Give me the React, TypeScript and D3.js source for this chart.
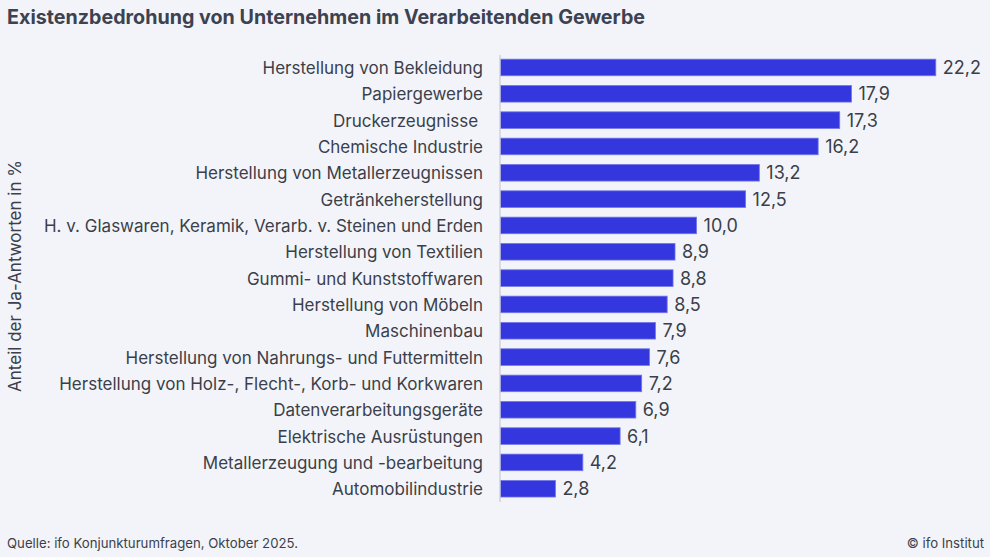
import React, { useEffect, useRef } from "react";
import * as d3 from "d3";

const categories = [
  "Herstellung von Bekleidung",
  "Papiergewerbe",
  "Druckerzeugnisse ",
  "Chemische Industrie",
  "Herstellung von Metallerzeugnissen",
  "Getränkeherstellung",
  "H. v. Glaswaren, Keramik, Verarb. v. Steinen und Erden",
  "Herstellung von Textilien",
  "Gummi- und Kunststoffwaren",
  "Herstellung von Möbeln",
  "Maschinenbau",
  "Herstellung von Nahrungs- und Futtermitteln",
  "Herstellung von Holz-, Flecht-, Korb- und Korkwaren",
  "Datenverarbeitungsgeräte",
  "Elektrische Ausrüstungen",
  "Metallerzeugung und -bearbeitung",
  "Automobilindustrie",
];
const values = [22.2, 17.9, 17.3, 16.2, 13.2, 12.5, 10.0, 8.9, 8.8, 8.5, 7.9, 7.6, 7.2, 6.9, 6.1, 4.2, 2.8];

const title = "Existenzbedrohung von Unternehmen im Verarbeitenden Gewerbe";
const yTitle = "Anteil der Ja-Antworten in %";
const source = "Quelle: ifo Konjunkturumfragen, Oktober 2025.";
const credit = "© ifo Institut";

const W = 990;
const H = 557;
const FONT = "Inter, 'Noto Sans', sans-serif";
const TEXT = "#3b3f4a";

export default function App() {
  const ref = useRef<SVGSVGElement | null>(null);

  useEffect(() => {
    const svg = d3.select(ref.current);
    svg.selectAll("*").remove();

    svg.append("rect").attr("width", W).attr("height", H).attr("fill", "#f3f4f9");

    const x0 = 500.5;
    const x = d3.scaleLinear().domain([0, 22.2]).range([x0, x0 + 435.3]);
    const y = d3
      .scaleBand<string>()
      .domain(categories)
      .range([54.3, 501.9])
      .paddingInner(0.37)
      .paddingOuter(0.185);

    svg
      .append("text")
      .attr("x", 7)
      .attr("y", 24)
      .attr("font-family", FONT)
      .attr("font-weight", 700)
      .attr("font-size", 19.7)
      .attr("fill", "#3d4250")
      .text(title);

    const g = svg.append("g");
    g.selectAll("rect.bar")
      .data(values)
      .join("rect")
      .attr("class", "bar")
      .attr("x", x(0))
      .attr("y", (_, i) => y(categories[i])!)
      .attr("width", (d) => x(d) - x(0))
      .attr("height", y.bandwidth())
      .attr("fill", "#3437dd")
      .attr("stroke", "#7376e8")
      .attr("stroke-width", 0.8);

    g.selectAll("text.val")
      .data(values)
      .join("text")
      .attr("class", "val")
      .attr("x", (d) => x(d) + 7)
      .attr("y", (_, i) => y(categories[i])! + y.bandwidth() / 2)
      .attr("dy", "0.37em")
      .attr("font-family", FONT)
      .attr("font-size", 18)
      .attr("fill", TEXT)
      .text((d) => d3.format(".1f")(d).replace(".", ","));

    g.selectAll("text.cat")
      .data(categories)
      .join("text")
      .attr("class", "cat")
      .attr("x", 483)
      .attr("y", (d) => y(d)! + y.bandwidth() / 2)
      .attr("dy", "0.38em")
      .attr("text-anchor", "end")
      .attr("font-family", FONT)
      .attr("font-size", 17)
      .attr("fill", TEXT)
      .style("white-space", "pre")
      .text((d) => d);

    svg
      .append("line")
      .attr("x1", 500)
      .attr("x2", 500)
      .attr("y1", 55)
      .attr("y2", 502)
      .attr("stroke", "#c8cad3")
      .attr("stroke-width", 1.2);

    svg
      .append("text")
      .attr("transform", `translate(21,276) rotate(-90)`)
      .attr("text-anchor", "middle")
      .attr("font-family", FONT)
      .attr("font-size", 17)
      .attr("fill", TEXT)
      .text(yTitle);

    svg
      .append("text")
      .attr("x", 7)
      .attr("y", 548)
      .attr("font-family", FONT)
      .attr("font-size", 13.2)
      .attr("fill", TEXT)
      .text(source);

    svg
      .append("text")
      .attr("x", 984)
      .attr("y", 548)
      .attr("text-anchor", "end")
      .attr("font-family", FONT)
      .attr("font-size", 13.2)
      .attr("fill", TEXT)
      .text(credit);
  }, []);

  return (
    <div style={{ position: "absolute", left: 0, top: 0 }}>
      <svg ref={ref} width={W} height={H} style={{ display: "block" }} />
    </div>
  );
}
